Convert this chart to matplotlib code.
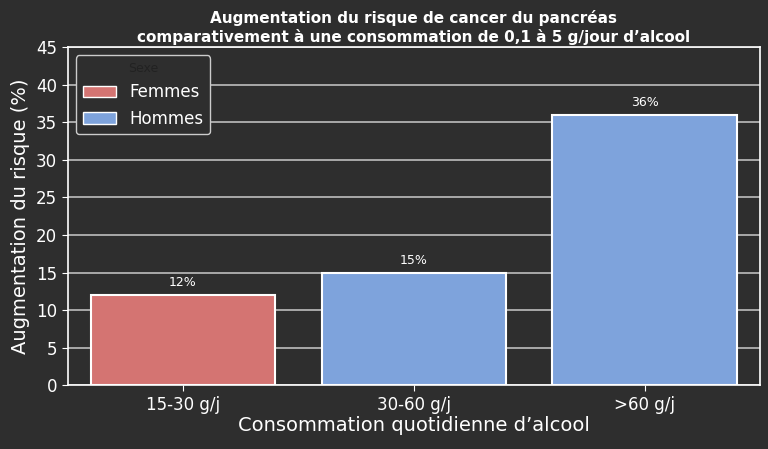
import matplotlib

matplotlib.use("Agg")

import matplotlib.pyplot as plt
from matplotlib.patches import Patch

categories = ["15-30 g/j", "30-60 g/j", ">60 g/j"]
values = [12, 15, 36]
sexes = ["Femmes", "Hommes", "Hommes"]
colors = {"Femmes": "#d47472", "Hommes": "#7ea3dc"}

BG = "#2e2e2e"

fig, ax = plt.subplots(figsize=(7.68, 4.49), dpi=100)
fig.patch.set_facecolor(BG)
ax.set_facecolor(BG)

ax.set_axisbelow(True)
ax.grid(axis="y", color="#bdbdbd", linewidth=1.2)
bars = ax.bar(categories, values, width=0.8,
              color=[colors[s] for s in sexes], edgecolor="white", linewidth=1.5)
for b, v in zip(bars, values):
    ax.text(b.get_x() + b.get_width() / 2, v + 0.8, f"{v}%", ha="center", va="bottom",
            color="white", fontsize=9)

ax.set_ylim(0, 45)
ax.set_yticks(range(0, 46, 5))
ax.set_xlim(-0.5, 2.5)
ax.tick_params(colors="white", labelsize=12, length=4)
for s in ax.spines.values():
    s.set_color("white")
    s.set_linewidth(1.2)

ax.set_xlabel("Consommation quotidienne d’alcool", color="white", fontsize=14, labelpad=2)
ax.set_ylabel("Augmentation du risque (%)", color="white", fontsize=14)
ax.set_title("Augmentation du risque de cancer du pancréas\ncomparativement à une consommation de 0,1 à 5 g/jour d’alcool",
             color="white", fontsize=11, fontweight="bold", pad=4)

handles = [Patch(facecolor=colors[k], edgecolor="white", label=k) for k in ["Femmes", "Hommes"]]
leg = ax.legend(handles=handles, title="Sexe", loc="upper left", fontsize=12,
                facecolor=BG, edgecolor="#cccccc", labelcolor="white", framealpha=1)
leg.get_title().set_color("#222222")
leg.get_title().set_fontsize(9)

fig.subplots_adjust(left=0.088, right=0.99, top=0.895, bottom=0.142)
fig.savefig("out.png", dpi=100, facecolor=BG)
